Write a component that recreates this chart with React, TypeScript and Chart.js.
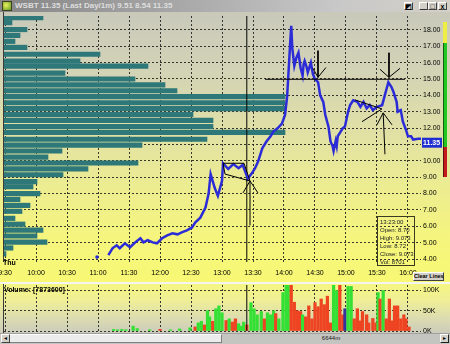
import React, { useEffect, useRef } from "react";
import { Chart, registerables } from "chart.js";

Chart.register(...registerables);

// ---------- data (minutes after 9:30) ----------
const timeTickMinutes = [0, 30, 60, 90, 120, 150, 180, 210, 240, 270, 300, 330, 360, 390];
const timeTickLabels = ["9:30", "10:00", "10:30", "11:00", "11:30", "12:00", "12:30", "13:00", "13:30", "14:00", "14:30", "15:00", "15:30", "16:00"];
const priceTicks = [4, 5, 6, 7, 8, 9, 10, 11, 12, 13, 14, 15, 16, 17, 18];
const volumeTicks = [0, 50000, 100000];
const volumeTickLabels = ["0K", "50K", "100K"];

const firstTradeMinute = 89;
const firstTradePrice = 4.12;

const priceMinutes = [
  100, 104, 108, 111, 116, 121, 126, 131, 134, 138, 143, 147, 152, 157, 162, 167, 171, 176, 181, 184,
  189, 194, 197, 199, 203, 206, 210, 211, 216, 221, 226, 230, 233, 235, 239, 242, 245, 249, 253, 257,
  260, 264, 268, 271, 273, 274, 276, 277, 278, 280, 282, 284, 286, 288, 289, 290, 292, 293, 296, 298,
  300, 303, 305, 308, 310, 313, 315, 317, 318, 320, 321, 322, 325, 327, 329, 332, 334, 337, 341, 344,
  347, 350, 353, 356, 360, 365, 368, 371, 374, 376, 379, 380, 383, 385, 388, 390, 393, 395, 400, 406,
];
const priceValues = [
  4.24, 4.66, 4.84, 4.66, 4.96, 4.72, 5.02, 5.27, 5.02, 5.15, 5.02, 4.96, 5.27, 5.45, 5.57, 5.51, 5.63, 5.75, 5.93, 6.23,
  6.53, 7.14, 7.98, 9.19, 8.34, 7.86, 8.77, 9.85, 9.5, 9.8, 9.55, 9.75, 9.25, 8.9, 9.25, 9.55, 9.97, 10.76, 11.18, 11.5,
  11.8, 12.0, 12.27, 12.8, 13.9, 15.0, 17.2, 18.24, 16.9, 15.8, 16.3, 16.6, 15.7, 15.2, 15.9, 16.1, 15.7, 15.4, 16.0, 15.3,
  15.0, 14.8, 14.0, 13.6, 12.8, 12.1, 11.2, 10.9, 10.6, 11.2, 10.9, 11.5, 11.8, 12.0, 12.1, 13.0, 13.4, 13.7, 13.6, 13.3,
  13.6, 13.2, 13.4, 13.1, 13.3, 13.4, 14.1, 14.8, 14.5, 14.2, 13.6, 13.0, 13.1, 12.4, 11.9, 11.5, 11.5, 11.3, 11.35, 11.35,
];

// volume at price (left histogram)
const histPrices = [
  18.6, 18.3, 17.88, 17.52, 17.16, 16.79, 16.37, 15.95, 15.65, 15.22, 14.86, 14.5, 14.14, 13.78, 13.41, 13.05, 12.69, 12.33, 11.96, 11.6,
  11.18, 10.82, 10.46, 10.09, 9.73, 9.37, 9.01, 8.59, 8.28, 7.86, 7.5, 7.14, 6.78, 6.35, 5.99, 5.63, 5.27, 4.9, 4.54, 4.18,
];
const histVolumes = [
  78000, 16000, 46000, 32000, 22000, 46000, 192000, 152000, 288000, 122000, 262000, 322000, 346000, 562000, 562000, 562000, 378000, 418000, 418000, 562000,
  406000, 276000, 116000, 88000, 268000, 168000, 118000, 66000, 58000, 72000, 32000, 52000, 36000, 22000, 42000, 78000, 66000, 86000, 18000, 4000,
];

// per-minute volume bars
const volumeMinutes = [
  105, 109, 113, 117, 124, 128, 140, 150, 160, 169, 179, 184, 187, 190, 193, 196, 198, 201, 204, 207,
  210, 214, 217, 220, 223, 226, 229, 231, 234, 238, 241, 244, 248, 251, 254, 257, 260, 262, 265, 269,
  272, 274, 277, 280, 283, 286, 288, 291, 294, 297, 300, 303, 306, 309, 312, 315, 318, 321, 324, 327,
  329, 332, 335, 338, 341, 344, 346, 350, 352, 356, 359, 361, 363, 366, 369, 372, 375, 377, 380, 383,
  386, 388, 391,
];
const volumeValues = [
  4000, 3000, 4000, 3000, 12000, 6000, 3000, 4000, 3000, 5000, 8000, 10000, 20000, 24000, 15000, 50000, 35000, 24000, 55000, 62000,
  45000, 26000, 30000, 22000, 30000, 18000, 12000, 22000, 15000, 70000, 55000, 40000, 48000, 30000, 45000, 40000, 50000, 43000, 30000, 95000,
  120000, 120000, 120000, 71000, 50000, 48000, 40000, 35000, 62000, 30000, 70000, 60000, 79000, 65000, 86000, 20000, 120000, 100000, 120000, 40000,
  55000, 110000, 110000, 30000, 55000, 25000, 48000, 40000, 20000, 31000, 20000, 95000, 79000, 100000, 30000, 79000, 25000, 62000, 62000, 30000,
  40000, 30000, 10000,
];
const volumeDirections = [
  "g", "g", "g", "g", "g", "g", "g", "r", "g", "g", "g", "r", "g", "g", "r", "g", "g", "r", "g", "g",
  "g", "r", "g", "r", "r", "g", "g", "g", "r", "g", "g", "g", "g", "r", "g", "g", "g", "r", "g", "g",
  "g", "g", "r", "r", "r", "r", "g", "r", "r", "r", "r", "r", "r", "r", "r", "r", "g", "g", "r", "r",
  "b", "g", "g", "r", "r", "r", "r", "r", "r", "r", "r", "g", "r", "g", "r", "r", "r", "r", "r", "r",
  "r", "r", "r",
];

const crosshairMinute = 234;

// hand-drawn annotation lines: [minute, price], null = break
const flagOutline = [[211, 9.85], [231.3, 9.85], [237.1, 8.77], [212.9, 9.19], [211, 9.85]];
const flagArrow = [[237.1, 6.05], [237.1, 8.77], [230.3, 8.04], null, [237.1, 8.77], [244.8, 8.04]];
const resistanceLine = [[251.6, 14.98], [387.1, 14.98]];
const downArrowA = [[302.9, 16.73], [302.9, 15.1], [298, 15.65], null, [302.9, 15.1], [310.6, 15.7]];
const downArrowB = [[371.6, 16.6], [371.6, 15.1], [362.9, 15.59], null, [371.6, 15.1], [382.3, 15.65]];
const pennant = [[338.7, 13.72], [364.8, 13.17], [345.5, 12.39]];
const upArrowB = [[367.7, 10.4], [366, 12.93], [360, 12.2], null, [366, 12.93], [374.5, 12.2]];

const FONT_FAMILY = "'Liberation Sans', Arial, sans-serif";

function toPoints(arr: any[]) {
  return arr.map((p, i) => (p ? { x: p[0], y: p[1] } : { x: arr[i - 1][0], y: null }));
}

export default function App() {
  const mainRef = useRef<HTMLCanvasElement>(null);
  const volRef = useRef<HTMLCanvasElement>(null);

  useEffect(() => {
    const font = { family: FONT_FAMILY, size: 7 };
    const gridColor = "rgba(25,25,25,0.85)";

    const annotation = (arr: any[]) => ({
      type: "line",
      xAxisID: "x",
      yAxisID: "y",
      data: toPoints(arr),
      borderColor: "#000000",
      borderWidth: 1,
      pointRadius: 0,
      order: 1,
    });

    const lastPriceBox = {
      id: "lastPriceBox",
      afterDraw(chart: any) {
        const { ctx, chartArea, scales } = chart;
        const last = priceValues[priceValues.length - 1];
        const py = scales.y.getPixelForValue(last);
        ctx.save();
        ctx.fillStyle = "#1f2fd2";
        ctx.fillRect(chartArea.right + 1, py - 1, 20, 10);
        ctx.fillStyle = "#ffffff";
        ctx.font = `bold 7px ${FONT_FAMILY}`;
        ctx.textBaseline = "middle";
        ctx.fillText(last.toFixed(2), chartArea.right + 2, py + 4);
        ctx.restore();
      },
    };

    const main = new Chart(mainRef.current as HTMLCanvasElement, {
      type: "line",
      data: {
        datasets: [
          {
            type: "bar",
            indexAxis: "y",
            xAxisID: "xh",
            yAxisID: "y",
            data: histPrices.map((p, i) => ({ x: histVolumes[i], y: p })),
            backgroundColor: "#2e7879",
            borderWidth: 0,
            barThickness: 4.5,
            order: 10,
          } as any,
          {
            type: "line",
            xAxisID: "x",
            yAxisID: "y",
            data: [
              { x: crosshairMinute, y: 0 },
              { x: crosshairMinute, y: 30 },
            ],
            borderColor: "#000000",
            borderWidth: 1,
            pointRadius: 0,
            order: 4,
          },
          {
            type: "line",
            xAxisID: "x",
            yAxisID: "y",
            data: [{ x: firstTradeMinute, y: firstTradePrice }],
            showLine: false,
            pointRadius: 1.8,
            pointBackgroundColor: "#2b2bd8",
            pointBorderWidth: 0,
            order: 2,
          },
          {
            type: "line",
            xAxisID: "x",
            yAxisID: "y",
            data: priceMinutes.map((m, i) => ({ x: m, y: priceValues[i] })),
            borderColor: "#2b2bd8",
            borderWidth: 2.5,
            pointRadius: 0,
            tension: 0,
            order: 2,
          },
          annotation(flagOutline),
          annotation(flagArrow),
          annotation(resistanceLine),
          annotation(downArrowA),
          annotation(downArrowB),
          annotation(pennant),
          annotation(upArrowB),
        ] as any,
      },
      options: {
        responsive: false,
        animation: false,
        events: [],
        layout: { padding: { left: 4, right: 0, top: 1, bottom: 4 } },
        plugins: { legend: { display: false }, tooltip: { enabled: false } },
        scales: {
          x: {
            type: "linear",
            position: "bottom",
            min: -1,
            max: 402.6,
            offset: false,
            z: 1,
            grid: { color: gridColor, drawTicks: false, offset: false },
            border: { display: false, dash: [2, 2] },
            ticks: {
              font,
              color: "#000000",
              padding: 7,
              autoSkip: false,
              maxRotation: 0,
              callback: (v: any) => {
                const i = timeTickMinutes.indexOf(Number(v));
                return i >= 0 ? timeTickLabels[i] : "";
              },
            },
            afterBuildTicks: (s: any) => {
              s.ticks = timeTickMinutes.map((v) => ({ value: v }));
            },
            afterFit: (s: any) => {
              s.height = 16;
              s.paddingLeft = 0;
              s.paddingRight = 0;
            },
          },
          y: {
            type: "linear",
            position: "right",
            min: 3.82,
            max: 18.845,
            offset: false,
            z: 1,
            grid: { color: gridColor, drawTicks: false, offset: false },
            border: { display: false, dash: [2, 2] },
            ticks: {
              font,
              color: "#000000",
              padding: 2,
              callback: (v: any) => Number(v).toFixed(2),
            },
            afterBuildTicks: (s: any) => {
              s.ticks = priceTicks.map((v) => ({ value: v }));
            },
            afterFit: (s: any) => {
              s.width = 29;
              s.paddingTop = 0;
              s.paddingBottom = 0;
            },
          },
          xh: {
            type: "linear",
            axis: "x",
            display: false,
            min: 0,
            max: 834000,
          },
        } as any,
      },
      plugins: [lastPriceBox],
    });

    const dirColor = (d: string) => (d === "g" ? "#35e035" : d === "r" ? "#ee4422" : "#34349c");

    const vol = new Chart(volRef.current as HTMLCanvasElement, {
      type: "bar",
      data: {
        datasets: [
          {
            type: "bar",
            xAxisID: "x",
            yAxisID: "y",
            data: volumeMinutes.map((m, i) => ({ x: m, y: volumeValues[i] })),
            backgroundColor: volumeDirections.map(dirColor),
            barThickness: 2.6,
            order: 2,
          },
          {
            type: "line",
            xAxisID: "x",
            yAxisID: "y",
            data: [
              { x: crosshairMinute, y: 0 },
              { x: crosshairMinute, y: 200000 },
            ],
            borderColor: "#000000",
            borderWidth: 1,
            pointRadius: 0,
            order: 1,
          },
        ] as any,
      },
      options: {
        responsive: false,
        animation: false,
        events: [],
        layout: { padding: { left: 4, right: 0, top: 1, bottom: 2 } },
        plugins: { legend: { display: false }, tooltip: { enabled: false } },
        scales: {
          x: {
            type: "linear",
            position: "bottom",
            min: -1,
            max: 402.6,
            offset: false,
            grid: { color: gridColor, drawTicks: false, offset: false },
            border: { display: false, dash: [2, 2] },
            ticks: { display: false },
            afterBuildTicks: (s: any) => {
              s.ticks = timeTickMinutes.map((v) => ({ value: v }));
            },
            afterFit: (s: any) => {
              s.height = 0;
              s.paddingLeft = 0;
              s.paddingRight = 0;
            },
          },
          y: {
            type: "linear",
            position: "right",
            min: 0,
            max: 113580,
            offset: false,
            grid: { color: gridColor, drawTicks: false, offset: false },
            border: { display: false, dash: [2, 2] },
            ticks: {
              font,
              color: "#000000",
              padding: 2,
              callback: (v: any) => {
                const i = volumeTicks.indexOf(Number(v));
                return i >= 0 ? volumeTickLabels[i] : "";
              },
            },
            afterBuildTicks: (s: any) => {
              s.ticks = volumeTicks.map((v) => ({ value: v }));
            },
            afterFit: (s: any) => {
              s.width = 29;
              s.paddingTop = 0;
              s.paddingBottom = 0;
            },
          },
        } as any,
      },
    });

    return () => {
      main.destroy();
      vol.destroy();
    };
  }, []);

  const abs = (left: number, top: number, width: number, height: number, extra: any = {}) => ({
    position: "absolute" as const,
    left,
    top,
    width,
    height,
    ...extra,
  });

  const btn = (left: number, label: string) => (
    <div
      style={abs(left, 2, 9, 8, {
        background: "#d4d0c8",
        borderTop: "1px solid #ffffff",
        borderLeft: "1px solid #ffffff",
        borderRight: "1px solid #404040",
        borderBottom: "1px solid #404040",
        fontSize: 7,
        lineHeight: "8px",
        textAlign: "center",
        fontWeight: "bold",
        color: "#000",
        boxSizing: "border-box",
      })}
    >
      {label}
    </div>
  );

  return (
    <div
      style={{
        position: "fixed",
        left: 0,
        top: 0,
        width: 450,
        height: 344,
        overflow: "hidden",
        background: "#d4d0c8",
        fontFamily: FONT_FAMILY,
      }}
    >
      {/* title bar */}
      <div style={abs(0, 0, 450, 12, { background: "linear-gradient(90deg, #868686 0%, #a8a8a8 40%, #c8c8c8 75%, #d4d0c8 100%)" })} />
      <div
        style={abs(2, 1, 10, 10, {
          background: "radial-gradient(circle at 40% 40%, #f0f060, #5a9a20)",
          border: "1px solid #404020",
          boxSizing: "border-box",
        })}
      />
      <div
        style={abs(15, 0, 300, 12, {
          fontSize: 8,
          lineHeight: "12px",
          fontWeight: "bold",
          color: "#dedede",
          whiteSpace: "nowrap",
        })}
      >
        WSBT 11.35 (Last Day/1m) 9.51 8.54 11.35
      </div>
      {btn(404, "◩")}
      {btn(419, "_")}
      {btn(428, "□")}
      {btn(438, "x")}

      {/* main price panel */}
      <div
        style={abs(0, 12, 450, 270, {
          background:
            "linear-gradient(180deg, #c9c9bb 0%, #d3d3b6 22%, #dfdfa8 42%, #ebeb94 62%, #f4f47f 82%, #f8f874 100%)",
        })}
      />
      <canvas ref={mainRef} width={450} height={270} style={abs(0, 12, 450, 270)} />
      <div style={abs(3, 12, 1, 250, { background: "#3a3a3a" })} />

      {/* buy/sell pressure bar */}
      <div style={abs(443, 22, 4, 21, { background: "#eeee44" })} />
      <div style={abs(443, 43, 4, 104, { background: "#22c822", borderLeft: "1px solid #106010", boxSizing: "border-box" })} />
      <div style={abs(443, 147, 4, 30, { background: "#c41c1c", borderLeft: "1px solid #601010", boxSizing: "border-box" })} />

      <div style={abs(3, 259, 20, 8, { fontSize: 7, lineHeight: "8px", fontWeight: "bold", color: "#000" })}>Thu</div>

      {/* data window */}
      <div
        style={abs(377, 216, 38, 50, {
          border: "1px solid #3a3a20",
          boxSizing: "border-box",
          fontSize: 6,
          lineHeight: "8px",
          color: "#202020",
          padding: "1px 0 0 2px",
          whiteSpace: "nowrap",
          overflow: "hidden",
        })}
      >
        <div>13:23:00</div>
        <div>Open: 8.70</div>
        <div>High: 9.073</div>
        <div>Low: 8.72</div>
        <div>Close: 9.073</div>
        <div>Vol: 8701</div>
      </div>

      {/* clear lines button */}
      <div
        style={abs(413, 272, 31, 9, {
          background: "#d4d0c8",
          borderTop: "1px solid #ffffff",
          borderLeft: "1px solid #ffffff",
          borderRight: "1px solid #404040",
          borderBottom: "1px solid #404040",
          boxSizing: "border-box",
          fontSize: 5.5,
          lineHeight: "7px",
          textAlign: "center",
          color: "#000",
          fontWeight: "bold",
          whiteSpace: "nowrap",
        })}
      >
        Clear Lines
      </div>

      {/* separator */}
      <div style={abs(0, 282, 450, 2, { background: "#f4f4f0" })} />

      {/* volume panel */}
      <div
        style={abs(0, 284, 450, 49, {
          background: "linear-gradient(180deg, #f6f682 0%, #eeee98 35%, #dcdcb0 70%, #ccccbc 100%)",
        })}
      />
      <canvas ref={volRef} width={450} height={49} style={abs(0, 284, 450, 49)} />
      <div style={abs(3, 284, 1, 49, { background: "#3a3a3a" })} />
      <div
        style={abs(4, 285, 120, 9, {
          fontSize: 7,
          lineHeight: "9px",
          fontWeight: "bold",
          color: "#000",
          whiteSpace: "nowrap",
        })}
      >
        Volume: [7873600]
      </div>

      {/* scrollbar */}
      <div style={abs(0, 333, 450, 11, { background: "#c4c4c0", borderTop: "1px solid #a0a0a0", boxSizing: "border-box" })} />
      <div
        style={abs(1, 334, 9, 9, {
          background: "#d4d0c8",
          borderTop: "1px solid #ffffff",
          borderLeft: "1px solid #ffffff",
          borderRight: "1px solid #404040",
          borderBottom: "1px solid #404040",
          boxSizing: "border-box",
          fontSize: 6,
          lineHeight: "7px",
          textAlign: "center",
        })}
      >
        ◂
      </div>
      <div
        style={abs(10, 334, 212, 9, {
          background: "#ececec",
          borderTop: "1px solid #ffffff",
          borderBottom: "1px solid #808080",
          borderRight: "1px solid #808080",
          boxSizing: "border-box",
        })}
      />
      <div style={abs(316, 334, 30, 9, { fontSize: 6, lineHeight: "9px", color: "#202020", textAlign: "center" })}>6644m</div>
      <div
        style={abs(440, 334, 9, 9, {
          background: "#d4d0c8",
          borderTop: "1px solid #ffffff",
          borderLeft: "1px solid #ffffff",
          borderRight: "1px solid #202020",
          borderBottom: "1px solid #202020",
          boxSizing: "border-box",
          fontSize: 6,
          lineHeight: "7px",
          textAlign: "center",
        })}
      >
        ▸
      </div>
    </div>
  );
}
